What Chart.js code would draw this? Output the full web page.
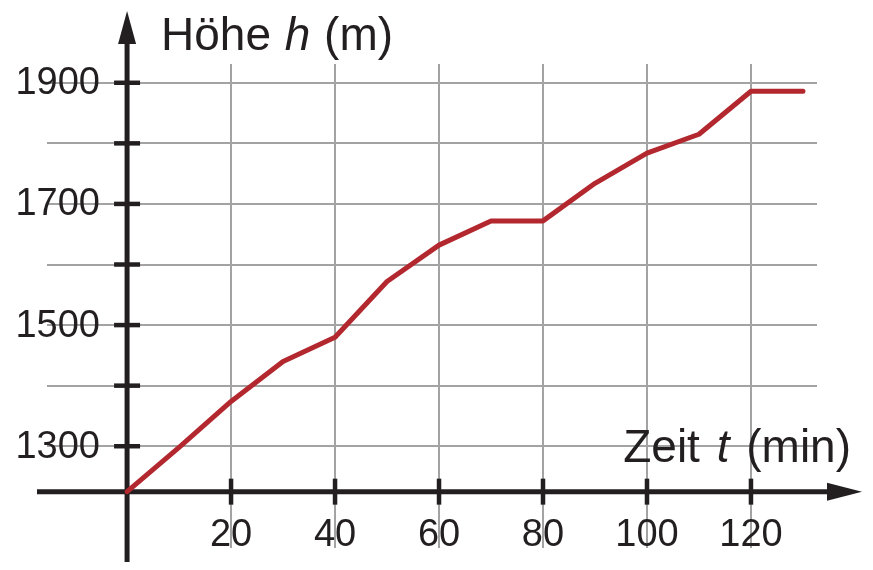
<!DOCTYPE html>
<html>
<head>
<meta charset="utf-8">
<script src="https://cdn.jsdelivr.net/npm/chart.js@4"></script>
<style>
    html, body { margin: 0; padding: 0; background: #fff; }
    #wrap { width: 873px; height: 570px; position: relative; }
</style>
</head>
<body>
<div id="wrap"><canvas id="hoeheChart"></canvas></div>
<script>
// Data: time in minutes, height in metres
const zeit = [0, 10, 20, 30, 40, 50, 60, 70, 80, 90, 100, 110, 120, 130];
const hoehe = [1225, 1298, 1374, 1440, 1480, 1572, 1632, 1672, 1672, 1734, 1784, 1815, 1886, 1886];

const xTicks = [20, 40, 60, 80, 100, 120];
const yTicks = [1300, 1400, 1500, 1600, 1700, 1800, 1900];
const yLabels = [1300, 1500, 1700, 1900];

const AXIS_COLOR = '#231f20';
const LINE_COLOR = '#b3282e';
const GRID_COLOR = '#a3a3a3';
const FONT = '"Liberation Sans", Arial, sans-serif';

// draws text pieces one after another, some in italics
function drawPieces(ctx, parts, x, y, gap) {
    let px = x;
    parts.forEach(([s, st]) => {
        ctx.font = st + '46px ' + FONT;
        ctx.fillText(s, px, y);
        px += ctx.measureText(s).width + gap;
    });
}

function piecesWidth(ctx, parts, gap) {
    let total = 0;
    parts.forEach(([s, st]) => {
        ctx.font = st + '46px ' + FONT;
        total += ctx.measureText(s).width + gap;
    });
    return total - gap;
}

// Axes with arrows, tick marks, tick labels and axis titles
Chart.register({
    id: 'axisArrows',
    beforeDatasetsDraw(chart) {
        const { ctx, scales: { x, y } } = chart;
        const x0 = x.getPixelForValue(0);
        const y0 = y.getPixelForValue(1225);

        ctx.save();
        ctx.strokeStyle = AXIS_COLOR;
        ctx.fillStyle = AXIS_COLOR;
        ctx.lineWidth = 5;

        // vertical axis
        ctx.beginPath();
        ctx.moveTo(x0, 562);
        ctx.lineTo(x0, 40);
        ctx.stroke();
        ctx.beginPath();
        ctx.moveTo(x0, 11);
        ctx.lineTo(x0 - 9, 44);
        ctx.lineTo(x0 + 9, 44);
        ctx.closePath();
        ctx.fill();

        // horizontal axis
        ctx.beginPath();
        ctx.moveTo(37, y0);
        ctx.lineTo(830, y0);
        ctx.stroke();
        ctx.beginPath();
        ctx.moveTo(862, y0);
        ctx.lineTo(827, y0 - 9);
        ctx.lineTo(827, y0 + 9);
        ctx.closePath();
        ctx.fill();

        // tick marks
        ctx.lineWidth = 4.5;
        yTicks.forEach(v => {
            const py = y.getPixelForValue(v);
            ctx.beginPath();
            ctx.moveTo(x0 - 13, py);
            ctx.lineTo(x0 + 13, py);
            ctx.stroke();
        });
        xTicks.forEach(v => {
            const px = x.getPixelForValue(v);
            ctx.beginPath();
            ctx.moveTo(px, y0 - 13);
            ctx.lineTo(px, y0 + 13);
            ctx.stroke();
        });

        // tick labels
        ctx.font = '38px ' + FONT;
        ctx.textBaseline = 'middle';
        ctx.textAlign = 'right';
        yLabels.forEach(v => {
            ctx.fillText(String(v), 100, y.getPixelForValue(v) + 1);
        });
        ctx.textAlign = 'center';
        xTicks.forEach(v => {
            ctx.fillText(String(v), x.getPixelForValue(v), 536);
        });

        // axis titles, with the variable in italics
        ctx.textBaseline = 'alphabetic';
        ctx.textAlign = 'left';
        drawPieces(ctx, [['Höhe ', ''], ['h', 'italic '], [' (m)', '']], 161, 50, 1);

        const zeitParts = [['Zeit ', ''], ['t', 'italic '], [' (min)', '']];
        drawPieces(ctx, zeitParts, 851 - piecesWidth(ctx, zeitParts, 4), 462, 4);
        ctx.restore();
    }
});

const ctx = document.getElementById('hoeheChart').getContext('2d');
const hoeheChart = new Chart(ctx, {
    type: 'line',
    data: {
        datasets: [{
            data: zeit.map((t, i) => ({ x: t, y: hoehe[i] })),
            borderColor: LINE_COLOR,
            borderWidth: 5,
            borderJoinStyle: 'round',
            borderCapStyle: 'round',
            pointRadius: 0,
            tension: 0,
            fill: false
        }]
    },
    options: {
        responsive: true,
        maintainAspectRatio: false,
        animation: false,
        layout: {
            padding: { left: 47, right: 56, top: 64, bottom: 22 }
        },
        plugins: {
            legend: { display: false },
            tooltip: { enabled: false }
        },
        scales: {
            x: {
                type: 'linear',
                min: -15.4,
                max: 132.7,
                afterBuildTicks: axis => { axis.ticks = xTicks.map(v => ({ value: v })); },
                ticks: { display: false },
                border: { display: false },
                grid: { color: GRID_COLOR, lineWidth: 2, drawTicks: false }
            },
            y: {
                type: 'linear',
                min: 1132,
                max: 1931,
                afterBuildTicks: axis => { axis.ticks = yTicks.map(v => ({ value: v })); },
                ticks: { display: false },
                border: { display: false },
                grid: { color: GRID_COLOR, lineWidth: 2, drawTicks: false }
            }
        }
    }
});
</script>
</body>
</html>
